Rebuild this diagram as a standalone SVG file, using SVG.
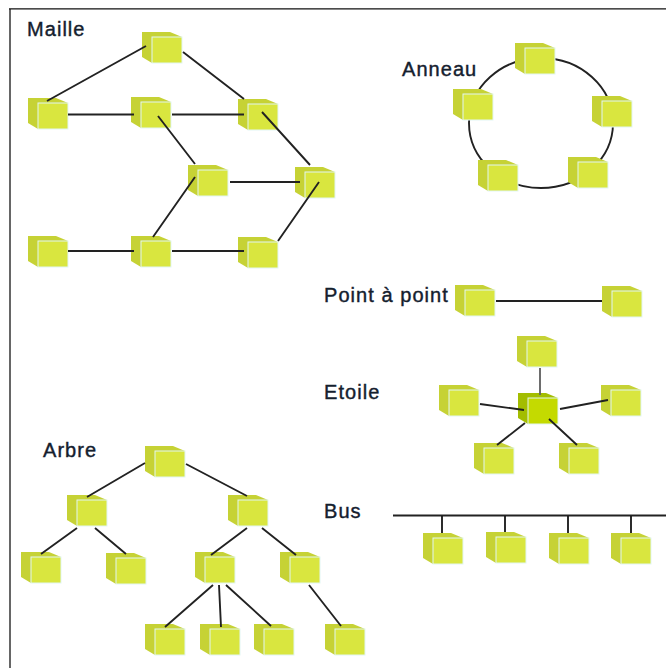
<svg xmlns="http://www.w3.org/2000/svg" width="666" height="668" viewBox="0 0 666 668">
<style>
.l{font:20px "Liberation Sans",Arial,sans-serif;letter-spacing:1.05px;fill:#14202e;stroke:#14202e;stroke-width:.4}
.c{stroke:#222;stroke-width:1.900;fill:none}
.side{fill:#c6d235}.front{fill:#d9e63f;stroke:#e2f6f4;stroke-width:1}
.sideD{fill:#a3bd00}.frontD{fill:#c4da00;stroke:#e2f6f4;stroke-width:1}
</style>
<defs>
<g id="cube"><path class="side" d="M0 0H28L40 5V31H10L0 25Z"/><rect class="front" x="10" y="5" width="30" height="26"/></g>
<g id="cubeD"><path class="sideD" d="M0 0H28L40 5V31H10L0 25Z"/><rect class="frontD" x="10" y="5" width="30" height="26"/></g>
</defs>
<rect width="666" height="668" fill="#fff"/>
<path d="M10 668V9" fill="none" stroke="#666" stroke-width="2"/>
<path d="M9 8.800H666" fill="none" stroke="#111" stroke-width="1.200"/>
<g id="labels">
<text class="l" x="27" y="36">Maille</text>
<text class="l" x="402" y="76">Anneau</text>
<text class="l" x="324" y="302">Point à point</text>
<text class="l" x="324" y="399">Etoile</text>
<text class="l" x="43" y="457">Arbre</text>
<text class="l" x="324" y="518">Bus</text>
</g>
<ellipse class="c" cx="541" cy="123" rx="72" ry="65"/>
<g id="n1"><use href="#cube" x="142" y="32"/></g>
<g id="n2"><use href="#cube" x="28" y="98"/></g>
<g id="n3"><use href="#cube" x="131" y="97"/></g>
<g id="n4"><use href="#cube" x="238" y="99"/></g>
<g id="n5"><use href="#cube" x="188" y="165"/></g>
<g id="n6"><use href="#cube" x="295" y="167"/></g>
<g id="n7"><use href="#cube" x="28" y="236"/></g>
<g id="n8"><use href="#cube" x="131" y="236"/></g>
<g id="n9"><use href="#cube" x="238" y="237"/></g>
<g id="a1"><use href="#cube" x="515" y="43"/></g>
<g id="a2"><use href="#cube" x="453" y="89"/></g>
<g id="a3"><use href="#cube" x="592" y="96"/></g>
<g id="a4"><use href="#cube" x="478" y="160"/></g>
<g id="a5"><use href="#cube" x="568" y="157"/></g>
<g id="p1"><use href="#cube" x="455" y="285"/></g>
<g id="p2"><use href="#cube" x="602" y="286"/></g>
<g id="e1"><use href="#cube" x="517" y="336"/></g>
<g id="e2"><use href="#cube" x="439" y="385"/></g>
<g id="e3"><use href="#cube" x="601" y="385"/></g>
<g id="e4"><use href="#cubeD" x="518" y="393"/></g>
<g id="e5"><use href="#cube" x="474" y="443"/></g>
<g id="e6"><use href="#cube" x="559" y="443"/></g>
<g id="t1"><use href="#cube" x="145" y="446"/></g>
<g id="t2"><use href="#cube" x="67" y="495"/></g>
<g id="t3"><use href="#cube" x="228" y="495"/></g>
<g id="t4"><use href="#cube" x="21" y="552"/></g>
<g id="t5"><use href="#cube" x="106" y="553"/></g>
<g id="t6"><use href="#cube" x="195" y="552"/></g>
<g id="t7"><use href="#cube" x="280" y="552"/></g>
<g id="t8"><use href="#cube" x="145" y="624"/></g>
<g id="t9"><use href="#cube" x="200" y="624"/></g>
<g id="t10"><use href="#cube" x="254" y="624"/></g>
<g id="t11"><use href="#cube" x="325" y="624"/></g>
<g id="b1"><use href="#cube" x="423" y="533"/></g>
<g id="b2"><use href="#cube" x="486" y="532"/></g>
<g id="b3"><use href="#cube" x="549" y="533"/></g>
<g id="b4"><use href="#cube" x="611" y="533"/></g>
<g id="connectors" class="c">
<path d="M146 46L47 101M183 52L244 99M68 114.500H134M172 114.500H244M158 116L195 164M262 112L310 165M230 182H300M195 177L153 237M68 251H134M172 251H244M278 241L319 182"/>
<path d="M496 301H602"/>
<path stroke="#666" d="M540 368V395"/>
<path d="M480 404L524 410M560 409L608 400M525 423L497 445M549 419L577 445"/>
<path d="M145 463L87 497M186 464L247 496M77 528L41 554M95 528L126 554M247 528L211 555M262 528L296 555M213 585L165 627M219 585L221 627M226 585L271 626M309 585L341 626"/>
<path d="M393 515.500H666M442 516V533M505 516V532M568 516V533M631 516V533"/>
</g>
</svg>
